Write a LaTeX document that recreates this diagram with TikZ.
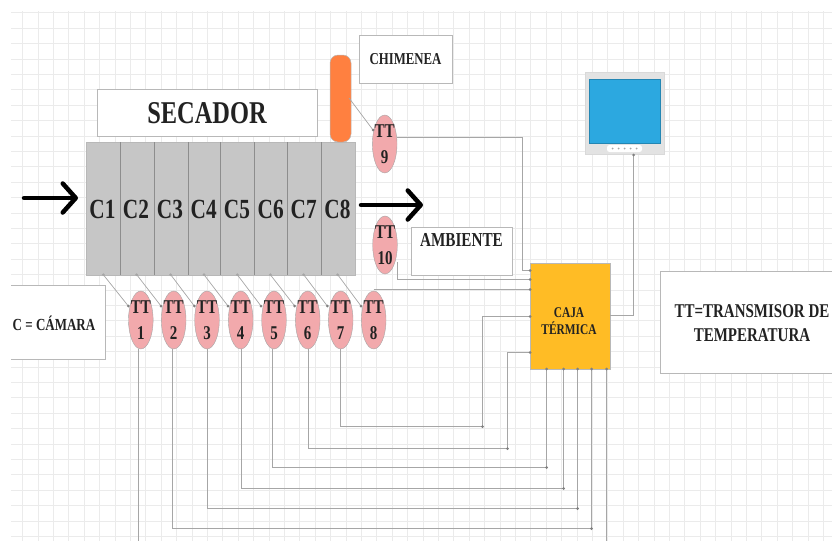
\documentclass[tikz,border=0pt]{standalone}
\usepackage{graphicx}
\usepackage{fontspec}
\setmainfont{Liberation Serif}
\usetikzlibrary{shapes.geometric,arrows.meta,calc}
\definecolor{gridc}{HTML}{EBEBEB}
\definecolor{wirec}{HTML}{A6A6A6}
\definecolor{inkc}{HTML}{222222}
\definecolor{edgec}{HTML}{B8B8B8}
\definecolor{drygrey}{HTML}{C6C6C6}
\definecolor{pinkc}{HTML}{F2A9AC}
\definecolor{orangec}{HTML}{FF8040}
\definecolor{cajac}{HTML}{FFBC25}
\definecolor{screenc}{HTML}{2CA8E0}
\newcommand{\tl}[2]{{\fontsize{#1}{#1}\selectfont\scalebox{1}[1.3]{#2}}}
\newcommand{\ttl}[1]{\makebox[0pt]{\tl{15}{\bfseries TT}}\\\makebox[0pt]{\tl{15}{\bfseries #1}}}
\tikzset{
  wire/.style={draw=wirec,line width=1pt},
  thin wire/.style={draw=wirec,line width=0.7pt},
  dotm/.style={circle,fill=#1,inner sep=0pt,minimum size=3pt},
  dotm/.default={gray},
  labelbox/.style={draw=edgec,line width=1pt,fill=white,inner sep=0pt,text=inkc},
  cam/.style={inner sep=0pt,text=inkc},
  tte/.style={ellipse,draw=wirec,line width=0.4pt,fill=pinkc,inner sep=0pt,minimum width=24.6pt,minimum height=58pt,align=center,text=inkc,font=\fontsize{15}{25.7}\selectfont},
  bigarrow/.style={line width=4.5pt,draw=black,line cap=round,-{Straight Barb[length=13pt,width=29pt,line width=4.5pt,round]}},
}
\begin{document}
\begin{tikzpicture}[x=1pt,y=-1pt]
\useasboundingbox (0,0) rectangle (832,541);
% grid
\foreach \k in {0,...,53} \draw[gridc,line width=0.6pt] ({22.5+15.4*\k},11) -- ({22.5+15.4*\k},541);
\foreach \k in {0,...,34} \draw[gridc,line width=0.6pt] (11,{12.7+15.4*\k}) -- (832,{12.7+15.4*\k});
% dryer
\node[draw=edgec,line width=0.8pt,fill=drygrey,minimum width=269pt,minimum height=133pt,inner sep=0pt] (dry) at (220.5,208.5) {};
\foreach \x in {120.5,154.5,188.5,220.5,254.5,287.5,321.5} \draw[wirec!85!black,line width=1pt] (\x,142) -- (\x,275);
\foreach \n/\x in {1/102.5,2/136,3/170,4/203.7,5/237,6/270.7,7/303.7,8/337.5}
  \node[cam] (c\n) at (\x,209) {\tl{21.3}{\bfseries C\n}};
% boxes
\node[labelbox,minimum width=220pt,minimum height=46.5pt] (sec) at (207,113.2) {\tl{24.4}{\bfseries SECADOR}};
\node[labelbox,minimum width=93pt,minimum height=48pt] (chi) at (405.5,59) {\tl{12.8}{\bfseries CHIMENEA}};
\node[labelbox,minimum width=101pt,minimum height=48pt,anchor=north west] (amb) at (411,227) {};
\node[cam] (ambt) at (461.5,240) {\tl{15.2}{\bfseries AMBIENTE}};
\fill[white] (11,285.7) rectangle (105,359.3);
\draw[edgec,line width=1pt] (11,285.7) -- (105,285.7) -- (105,359.3) -- (11,359.3);
\node[cam] (cam) at (54,323.5) {\tl{13}{\bfseries C = CÁMARA}};
\fill[white] (660,271.7) rectangle (832,373);
\draw[edgec,line width=1pt] (832,271.7) -- (660,271.7) -- (660,373) -- (832,373);
\node[cam,align=center,font=\fontsize{15}{24.3}\selectfont] (ttn) at (752,323) {\tl{15}{\bfseries TT=TRANSMISOR DE}\\\tl{15}{\bfseries TEMPERATURA}};
% chimney
\node[draw=edgec,line width=0.5pt,fill=orangec,rounded corners=8pt,minimum width=21pt,minimum height=87pt,inner sep=0pt] (chm) at (340.5,98.5) {};
% sensors
\foreach \n/\x in {1/140.8,2/173.7,3/207,4/240.7,5/274,6/307.7,7/340.7,8/373.7}
  \node[tte] (t\n) at (\x,320) {\ttl{\n}};
\node[tte] (t9) at (384.7,144) {\ttl{9}};
\node[tte] (t10) at (385,245) {\ttl{10}};
% box
\node[draw=edgec,line width=0.6pt,fill=cajac,minimum width=80pt,minimum height=106pt,inner sep=0pt] (caja) at (570,316) {};
\node[cam,align=center,font=\fontsize{11.4}{17}\selectfont] (cajat) at (569,321.5) {\tl{11.4}{\bfseries CAJA}\\\tl{11.4}{\bfseries TÉRMICA}};
% monitor
\node[fill=gray!22,draw=gray!30,line width=0.5pt,minimum width=79pt,minimum height=82pt,inner sep=0pt] (mon) at (624.5,113.5) {};
\node[fill=screenc,draw=screenc!80!black,line width=0.5pt,minimum width=70.5pt,minimum height=64pt,inner sep=0pt] (scr) at (624.7,111.5) {};
\node[fill=white,rounded corners=2.5pt,minimum width=35pt,minimum height=7pt,inner sep=0pt] (btn) at (624.5,148.5) {};
\foreach \x in {-12,-6,0,6,12} \fill[gray!70] ($(btn.center)+(\x,0)$) circle (1pt);
% arrows
\coordinate (la) at (24,198);
\coordinate (lb) at (78,198);
\coordinate (ra) at (361,205);
\coordinate (rb) at (423,205);
\draw[bigarrow] (la) -- (lb);
\draw[bigarrow] (ra) -- (rb);
% short links chamber -> sensor
\foreach \n/\a/\b in {1/103.3/128.3,2/136.7/161,3/170.7/194.3,4/204/228,5/237.3/261,6/270.3/294.7,7/303.7/327.3,8/337.7/361}{
  \coordinate (s\n) at (\a,274.7);
  \coordinate (e\n) at (\b,306);
  \draw[thin wire] (s\n) -- (e\n);
  \node[dotm=wirec] at (s\n) {};
  \node[dotm] at (e\n) {};
}
\coordinate (s9) at (349,98);
\coordinate (e9) at (373,130);
\draw[thin wire] (s9) -- (e9);
\node[dotm] at (e9) {};
% long wires to the bottom side of the box
\coordinate (bot) at (0,541);
\coordinate (q1) at (606.5,369);
\coordinate (u1) at (138.5,349);
\draw[wire] (u1) -- (u1 |- bot);
\draw[wire] (q1) -- (q1 |- bot);
\node[dotm] at (q1) {};
\foreach \n/\ux/\uy/\ly in {2/172.5/528.5/591.5,3/207.5/508.5/577.5,4/241.5/488.5/563.5,5/272.5/467.5/546.5}{
  \coordinate (u\n) at (\ux,349);
  \coordinate (q\n) at (\ly,369);
  \coordinate (m\n) at (\ly,\uy);
  \draw[wire] (u\n) |- (m\n) -- (q\n);
  \node[dotm] at (q\n) {};
  \node[dotm] at (m\n) {};
}
% wires to the left side of the box
\foreach \n/\ux/\ly/\mx/\ry in {6/308.5/448.5/507.5/352.5,7/340.5/426.5/482.5/316.5}{
  \coordinate (u\n) at (\ux,349);
  \coordinate (m\n) at (\mx,\ly);
  \coordinate (q\n) at (530,\ry);
  \draw[wire] (u\n) |- (m\n) |- (q\n);
  \node[dotm] at (m\n) {};
  \node[dotm] at (q\n) {};
}
\coordinate (q8) at (530,289.5);
\coordinate (u8) at (373.7,289.5);
\draw[wire] (u8) -- (q8);
\node[dotm] at (q8) {};
\coordinate (q10) at (530,279.5);
\coordinate (u10) at (397.5,262);
\draw[wire] (u10) |- (q10);
\node[dotm] at (q10) {};
\coordinate (q9) at (530,270.5);
\coordinate (u9) at (397,137.5);
\coordinate (w9) at (522.5,137.5);
\draw[wire] (u9) -- (w9) |- (q9);
\node[dotm] at (q9) {};
% box to monitor
\coordinate (r1) at (610,315.5);
\coordinate (r2) at (633.5,155);
\draw[wire] (r1) -| (r2);
\node[dotm] at (r2) {};
\end{tikzpicture}
\end{document}
